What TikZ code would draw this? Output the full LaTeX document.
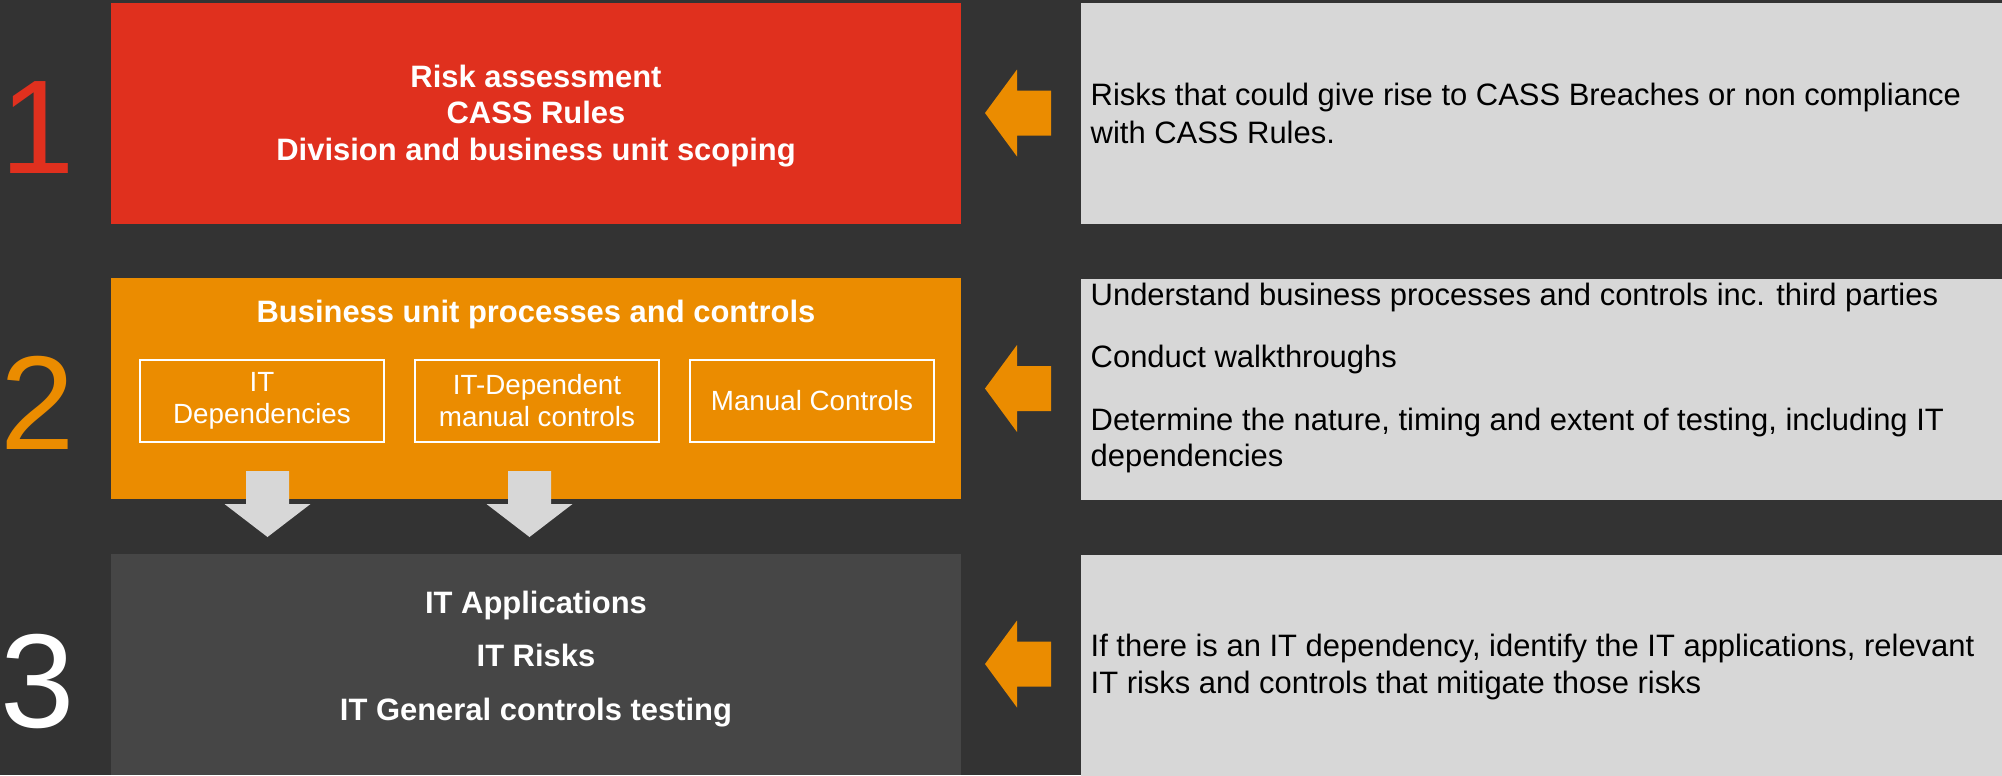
\documentclass[tikz,border=0pt]{standalone}
\usepackage{fontspec}
\setmainfont{Liberation Sans}

\definecolor{bg}{HTML}{333333}
\definecolor{riskred}{HTML}{E0301E}
\definecolor{pwcorange}{HTML}{EB8C00}
\definecolor{notegray}{HTML}{D7D7D7}
\definecolor{itgray}{HTML}{464646}

\tikzset{
  stagebox/.style={inner sep=0, minimum width=8.5cm, minimum height=2.21cm},
  stagetext/.style={inner sep=0, text=white, align=center, font=\bfseries\fontsize{8.8}{10.45}\selectfont},
  subbox/.style={draw=white, line width=0.6pt, inner sep=0, minimum width=2.44cm, minimum height=0.82cm,
    text=white, align=center, font=\fontsize{7.9}{9.1}\selectfont},
  notebox/.style={fill=notegray, inner sep=0, anchor=north west, minimum width=9.22cm, minimum height=2.21cm},
  notetext/.style={anchor=west, inner sep=0, align=left, font=\fontsize{8.8}{10.25}\selectfont},
  stepnum/.style={anchor=base west, inner sep=0, font=\fontsize{38}{38}\selectfont},
}

\begin{document}
\begin{tikzpicture}[x=0.01cm,y=-0.01cm]
% backdrop
\fill[bg] (0,0) rectangle (2002,775);
\useasboundingbox (0,0) rectangle (2002,775);

% step numbers
\node[stepnum, text=riskred] (n1) at (0,173) {1};
\node[stepnum, text=pwcorange] (n2) at (0,449) {2};
\node[stepnum, text=white] (n3) at (0,727) {3};

% left column
\node[stagebox, fill=riskred] (risk) at (536,113.5) {};
\node[stagebox, fill=pwcorange] (bizunit) at (536,388.5) {};
\node[stagebox, fill=itgray] (itgc) at (536,664.5) {};

\node[stagetext] (risktxt) at (536,116) {Risk assessment\\CASS Rules\\Division and business unit scoping};
\node[stagetext, anchor=base] (biztitle) at (536,322) {Business unit processes and controls};
\node[stagetext, font=\bfseries\fontsize{8.8}{15.3}\selectfont] (itgctxt) at (536,659)
  {IT Applications\\IT Risks\\IT General controls testing};

\node[subbox] (itdep) at (262,401) {IT\\Dependencies};
\node[subbox] (itdm) at (537,401) {IT-Dependent\\manual controls};
\node[subbox] (manual) at (812,401) {Manual Controls};

% down arrows into step 3
\foreach \x in {267.5,529.5}
  \fill[notegray] (\x-21.5,471) -- (\x+21.5,471) -- (\x+21.5,504) -- (\x+43,504)
    -- (\x,537) -- (\x-43,504) -- (\x-21.5,504) -- cycle;

% right column
\node[notebox] (note1) at (1080,2) {};
\node[notebox] (note2) at (1080,278) {};
\node[notebox] (note3) at (1080,554) {};

\node[notetext, font=\fontsize{8.8}{10.8}\selectfont] (note1txt) at (1090,113)
  {Risks that could give rise to CASS Breaches or non compliance\\with CASS Rules.};
\node[notetext] (note2txt) at (1090,377.7)
  {Understand business processes and controls inc. third parties\\[7.5pt]
   Conduct walkthroughs\\[7.5pt]
   Determine the nature, timing and extent of testing, including IT\\dependencies};
\node[notetext] (note3txt) at (1090,667)
  {If there is an IT dependency, identify the IT applications, relevant\\IT risks and controls that mitigate those risks};

% arrows from the notes
\foreach \y in {113,388.5,664}
  \fill[pwcorange] (985,\y) -- (1017,\y-43.5) -- (1017,\y-22.5) -- (1051,\y-22.5)
    -- (1051,\y+22.5) -- (1017,\y+22.5) -- (1017,\y+43.5) -- cycle;
\end{tikzpicture}
\end{document}
